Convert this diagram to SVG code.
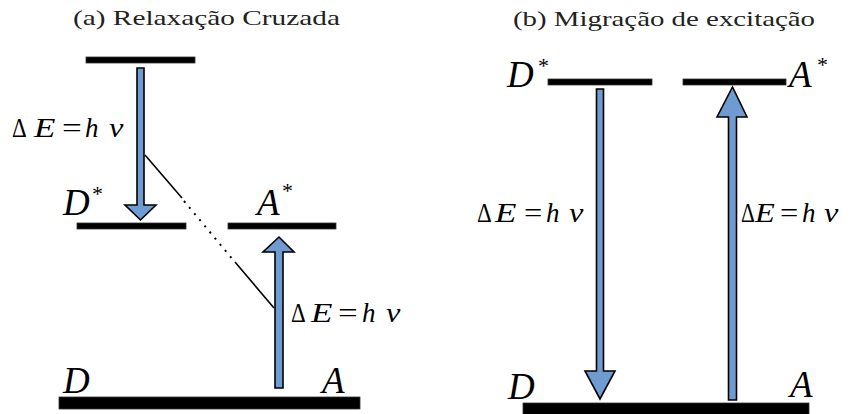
<svg xmlns="http://www.w3.org/2000/svg" width="854" height="414" viewBox="0 0 854 414">
<style>
.title{font-family:"Liberation Serif","DejaVu Serif",serif;font-size:22px;fill:#222}
.lvl{fill:#000;stroke:#333;stroke-width:0.8}
.sym{font-family:"Liberation Serif","DejaVu Serif",serif;font-style:italic;font-size:37px;fill:#000}
.star{font-family:"Liberation Serif","DejaVu Serif",serif;font-size:22px;fill:#000}
.eq text{font-family:"Liberation Serif","DejaVu Serif",serif;font-size:27px;fill:#000}
.eq .it{font-style:italic}
.arrow{fill:#6f9bd1;stroke:#000;stroke-width:1.6;stroke-linejoin:miter}
.line{stroke:#000;stroke-width:1.6;fill:none}
.dots{stroke:#000;stroke-width:2;fill:none;stroke-dasharray:2 6}
</style>
<rect width="854" height="414" fill="#fff"/>
<g id="titles">
<text class="title" x="73" y="25" textLength="267" lengthAdjust="spacingAndGlyphs">(a) Relaxação Cruzada</text>
<text class="title" x="513" y="26" textLength="302" lengthAdjust="spacingAndGlyphs">(b) Migração de excitação</text>
</g>
<g id="a-top-level"><rect class="lvl" x="86" y="57" width="109" height="6"/></g>
<g id="a-D-star">
<rect class="lvl" x="77" y="223" width="109" height="6"/>
<text class="sym" x="63" y="215">D</text><text class="star" x="92" y="201">*</text>
</g>
<g id="a-A-star">
<rect class="lvl" x="228" y="223" width="108" height="6"/>
<text class="sym" x="257" y="215">A</text><text class="star" x="282" y="198">*</text>
</g>
<g id="a-ground">
<rect class="lvl" x="59" y="397" width="301" height="12"/>
<text class="sym" x="63" y="393">D</text>
<text class="sym" x="322" y="393">A</text>
</g>
<g id="b-D-star">
<rect class="lvl" x="548" y="79" width="104" height="6"/>
<text class="sym" x="507" y="87">D</text><text class="star" x="538" y="73">*</text>
</g>
<g id="b-A-star">
<rect class="lvl" x="683" y="79" width="103" height="6"/>
<text class="sym" x="789" y="87">A</text><text class="star" x="817" y="72">*</text>
</g>
<g id="b-ground">
<rect class="lvl" x="523" y="403" width="286" height="14"/>
<text class="sym" x="508" y="399">D</text>
<text class="sym" x="790" y="397">A</text>
</g>
<g id="connectors">
<path class="arrow" d="M137,68 H144 V205 H156 L140.5,220 L125,205 H137 Z"/>
<path class="arrow" d="M275,388 H283 V252 H294 L279,237 L263,252 H275 Z"/>
<path class="arrow" d="M596.5,89 H603.5 V371 H615 L600,399 L585,371 H596.5 Z"/>
<path class="arrow" d="M728.5,400 H736.5 V117 H747 L732.5,87 L717,117 H728.5 Z"/>
<path class="line" d="M145,155 L182,198"/>
<path class="dots" d="M184,201 L234,261"/>
<path class="line" d="M235,262 L274,308"/>
</g>
<g id="labels" class="eq">
<text transform="translate(12,137) scale(0.85,1)">Δ</text>
<text class="it" transform="translate(34,137) scale(1.3,1)">E</text>
<text transform="translate(62,137) scale(1.3,1)">=</text>
<text class="it" transform="translate(85,137)">h</text>
<text class="it" transform="translate(109,137) scale(1.2,1)">ν</text>

<text transform="translate(291,322) scale(0.85,1)">Δ</text>
<text class="it" transform="translate(311,322) scale(1.3,1)">E</text>
<text transform="translate(338,322) scale(1.3,1)">=</text>
<text class="it" transform="translate(362,322)">h</text>
<text class="it" transform="translate(386,322) scale(1.2,1)">ν</text>

<text transform="translate(477,222) scale(0.85,1)">Δ</text>
<text class="it" transform="translate(495,222) scale(1.3,1)">E</text>
<text transform="translate(524,222) scale(1.2,1)">=</text>
<text class="it" transform="translate(546,222)">h</text>
<text class="it" transform="translate(569,222) scale(1.2,1)">ν</text>

<text transform="translate(741,222) scale(0.8,1)">Δ</text>
<text class="it" transform="translate(755,222) scale(1.2,1)">E</text>
<text transform="translate(780,222) scale(1.2,1)">=</text>
<text class="it" transform="translate(802,222)">h</text>
<text class="it" transform="translate(824,222) scale(1.2,1)">ν</text>
</g>
</svg>
